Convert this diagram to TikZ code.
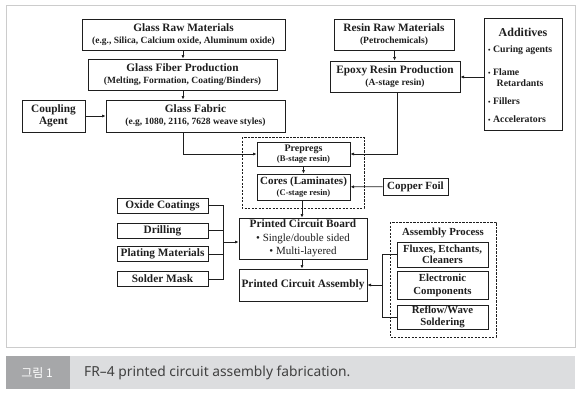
\documentclass[tikz,border=0pt]{standalone}
\usepackage{fontspec}
\setmainfont{Liberation Serif}
\newfontfamily\kr{Noto Sans CJK KR}
\newfontfamily\capfont{Noto Sans}
\usetikzlibrary{arrows.meta}
\definecolor{frame}{HTML}{CCCCCC}
\definecolor{capdark}{HTML}{A6A7A9}
\definecolor{caplight}{HTML}{DCDDDF}
\definecolor{captext}{HTML}{404040}
\definecolor{ink}{HTML}{1E1E1E}
\newcommand{\ttl}{\fontsize{11.3}{12.5}\selectfont\bfseries}
\newcommand{\sbt}{\fontsize{9.5}{12.5}\selectfont\bfseries}
\newcommand{\itm}{\fontsize{9.8}{11}\selectfont\bfseries}
\newcommand{\bul}{{\fontsize{7}{8}\selectfont•}\hspace{2.5pt}}
\begin{document}
\begin{tikzpicture}[x=1pt,y=-1pt,
  box/.style={draw=ink, line width=1pt, inner sep=0pt, align=center, text=ink, font=\ttl},
  grp/.style={draw=ink, line width=0.7pt, dash pattern=on 2.2pt off 1.3pt},
  conn/.style={draw=ink, line width=0.8pt},
  arr/.style={conn, -{Latex[length=3.5pt,width=3.2pt]}},
  lbl/.style={inner sep=0pt, text=ink}]
\useasboundingbox (0,0) rectangle (581,400);
% frame
\draw[frame, line width=0.8pt] (6,5) rectangle (575,347);
% caption
\fill[capdark] (6,356) rectangle (70,389);
\fill[caplight] (70,356) rectangle (575,389);
\node[inner sep=0pt, text=white, font=\kr\fontsize{12}{13}\selectfont] (capno) at (37,372.5) {그림 1};
\node[inner sep=0pt, anchor=west, text=captext, font=\capfont\fontsize{13.8}{15}\selectfont] (captxt) at (84,372.5) {FR–4 printed circuit assembly fabrication.};

% glass branch
\node[box, minimum width=203pt, minimum height=31pt] (grm) at (183.5,34.5)
  {Glass Raw Materials\\[-0.5pt]{\sbt (e.g., Silica, Calcium oxide, Aluminum oxide)}};
\node[box, minimum width=189pt, minimum height=31pt] (gfp) at (182.5,74.5)
  {Glass Fiber Production\\[-0.5pt]{\sbt (Melting, Formation, Coating/Binders)}};
\node[box, minimum width=179pt, minimum height=32pt] (gf) at (195.5,116)
  {Glass Fabric\\[-0.5pt]{\sbt (e.g, 1080, 2116, 7628 weave styles)}};
\node[box, minimum width=63pt, minimum height=32pt] (ca) at (53.5,116)
  {Coupling\\[0pt]Agent};

% resin branch
\node[box, minimum width=120pt, minimum height=31pt] (rrm) at (394,34.5)
  {Resin Raw Materials\\[-0.5pt]{\sbt (Petrochemicals)}};
\node[box, minimum width=130pt, minimum height=31pt] (ep) at (395,76.5)
  {Epoxy Resin Production\\[-0.5pt]{\sbt (A-stage resin)}};
\node[box, minimum width=78pt, minimum height=112pt] (add) at (523,74) {};
\node[lbl, font=\fontsize{12}{13}\selectfont\bfseries] (addt) at (523,32) {Additives};
\node[lbl, anchor=west, font=\itm] (a1) at (488,50) {\bul Curing agents};
\node[lbl, anchor=west, font=\itm] (a2) at (488,72) {\bul Flame};
\node[lbl, anchor=west, font=\itm] (a2b) at (496.5,83.5) {Retardants};
\node[lbl, anchor=west, font=\itm] (a3) at (488,101) {\bul Fillers};
\node[lbl, anchor=west, font=\itm] (a4) at (488,119) {\bul Accelerators};

% prepreg group
\draw[grp] (242,137) rectangle (364,208);
\node[box, minimum width=93pt, minimum height=24pt, font=\fontsize{10}{11}\selectfont\bfseries] (pp) at (303.5,154)
  {Prepregs\\[-0.5pt]{\fontsize{8.6}{11}\selectfont (B-stage resin)}};
\node[box, minimum width=93pt, minimum height=26pt, font=\fontsize{11}{12}\selectfont\bfseries] (co) at (303.5,187)
  {Cores (Laminates)\\[-0.5pt]{\fontsize{8.6}{12}\selectfont (C-stage resin)}};
\node[box, minimum width=65pt, minimum height=17pt, font=\fontsize{11}{12}\selectfont\bfseries] (cf) at (415.5,186.5)
  {Copper Foil};

% left inputs
\node[box, minimum width=91pt, minimum height=15pt] (oc) at (162.5,205.5) {Oxide Coatings};
\node[box, minimum width=91pt, minimum height=15pt] (dr) at (162.5,230.5) {Drilling};
\node[box, minimum width=91pt, minimum height=15pt] (pm) at (162.5,254) {Plating Materials};
\node[box, minimum width=91pt, minimum height=15pt] (sm) at (162.5,279) {Solder Mask};
\coordinate (lb) at (223,242);

% PCB / PCA
\node[box, minimum width=128pt, minimum height=41pt, font=\fontsize{11}{13.3}\selectfont] (pcb) at (303,238.5)
  {{\fontsize{11.3}{13.3}\selectfont\bfseries Printed Circuit Board}\\• Single/double sided\\• Multi-layered};
\node[box, minimum width=128pt, minimum height=32pt] (pca) at (303,285)
  {Printed Circuit Assembly};

% assembly group
\draw[grp] (390,222) rectangle (496,337);
\node[lbl, font=\fontsize{10.8}{12}\selectfont\bfseries] (apt) at (443,233) {Assembly Process};
\node[box, minimum width=91pt, minimum height=25pt, font=\fontsize{10.8}{10.5}\selectfont\bfseries] (fl) at (442.5,254.5)
  {Fluxes, Etchants,\\Cleaners};
\node[box, minimum width=91pt, minimum height=28pt, font=\fontsize{10.8}{13}\selectfont\bfseries] (ec) at (442.5,285)
  {Electronic\\Components};
\node[box, minimum width=91pt, minimum height=24pt, font=\fontsize{10.8}{12.5}\selectfont\bfseries] (rw) at (442.5,317)
  {Reflow/Wave\\Soldering};
\coordinate (rb) at (382,285);

% connectors
\draw[arr] (grm.south -| 183,0) -- (gfp.north -| 183,0);
\draw[arr] (gfp.south -| 183,0) -- (gf.north -| 183,0);
\draw[arr] (ca) -- (gf);
\draw[arr] (rrm) -- (ep);
\draw[arr] (add.west |- 0,77) -- (ep.east |- 0,77);
\draw[arr] (gf.south -| 183,0) |- (pp.west);
\draw[arr] (ep.south -| 397,0) |- (pp.east);
\draw[arr] (pp) -- (co);
\draw[arr] (cf) -- (co);
\draw[arr] (co.south -| 302,0) -- (pcb.north -| 302,0);
\draw[arr] (pcb.south -| 302,0) -- (pca.north -| 302,0);
\draw[conn] (oc.east) -| (lb);
\draw[conn] (sm.east) -| (lb);
\draw[conn] (dr.east) -- (dr.east -| lb);
\draw[conn] (pm.east) -- (pm.east -| lb);
\draw[arr] (lb) -- (lb -| pcb.west);
\draw[conn] (fl.west) -| (rb);
\draw[conn] (rw.west) -| (rb);
\draw[arr] (rb) -- (rb -| pca.east);
\end{tikzpicture}
\end{document}
